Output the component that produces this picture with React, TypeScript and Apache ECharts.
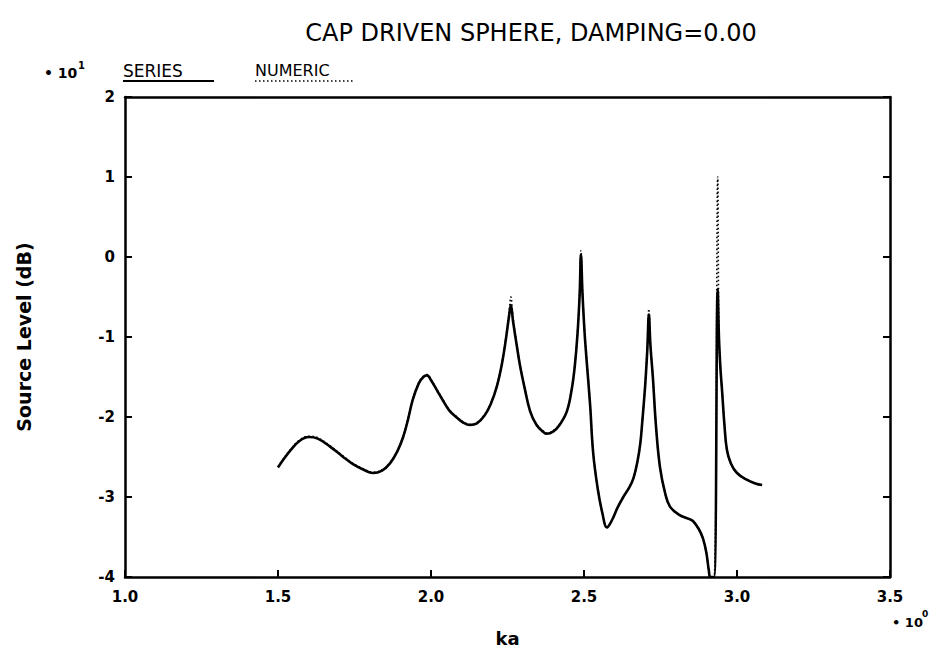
import React, { useEffect, useRef } from "react";
import * as echarts from "echarts";

// ka (dimensionless frequency) sample positions
const kaValues = [
  1.5, 1.52, 1.54, 1.57, 1.6, 1.63, 1.67, 1.71, 1.745, 1.78, 1.81, 1.84, 1.866, 1.89,
  1.909, 1.925, 1.94, 1.96, 1.975, 1.987, 2.0, 2.02, 2.04, 2.06, 2.085, 2.105, 2.127,
  2.15, 2.175, 2.195, 2.215, 2.232, 2.245, 2.255, 2.261, 2.268, 2.28, 2.291, 2.305,
  2.324, 2.345, 2.365, 2.379, 2.4, 2.42, 2.444, 2.46, 2.47, 2.479, 2.486, 2.49, 2.495,
  2.502, 2.51, 2.52, 2.53, 2.545, 2.56, 2.575, 2.59, 2.61, 2.63, 2.648, 2.662, 2.675,
  2.684, 2.69, 2.7, 2.707, 2.712, 2.717, 2.725, 2.735, 2.748, 2.765, 2.781, 2.81, 2.84,
  2.856, 2.875, 2.889, 2.9, 2.908, 2.913, 2.925, 2.937, 2.941, 2.946, 2.951, 2.959,
  2.967, 2.98, 3.0, 3.03, 3.06, 3.082,
];

// Series solution, source level in units of 10 dB
const seriesLevel = [
  -2.63, -2.52, -2.42, -2.3, -2.25, -2.27, -2.37, -2.49, -2.59, -2.66, -2.7, -2.67, -2.58,
  -2.43, -2.25, -2.03, -1.79, -1.58, -1.5, -1.48, -1.54, -1.67, -1.8, -1.92, -2.01,
  -2.07, -2.1, -2.08, -1.98, -1.84, -1.62, -1.33, -1.02, -0.74, -0.6, -0.8, -1.1, -1.36,
  -1.62, -1.93, -2.1, -2.18, -2.21, -2.18, -2.1, -1.93, -1.65, -1.36, -0.95, -0.45, 0.03,
  -0.45, -0.95, -1.36, -1.85, -2.45, -2.9, -3.2, -3.38, -3.3, -3.13, -2.99, -2.88, -2.76,
  -2.55, -2.33, -2.08, -1.6, -1.15, -0.72, -1.1, -1.5, -2.1, -2.62, -2.95, -3.12, -3.22,
  -3.27, -3.3, -3.4, -3.52, -3.7, -3.92, -4.0, -4.0, -0.4, -1.0, -1.4, -1.66, -2.1,
  -2.41, -2.58, -2.7, -2.78, -2.83, -2.85,
];

// Numerical solution, source level in units of 10 dB
const numericLevel = [
  -2.62, -2.51, -2.41, -2.29, -2.24, -2.26, -2.36, -2.48, -2.58, -2.65, -2.69, -2.66,
  -2.57, -2.42, -2.24, -2.02, -1.78, -1.57, -1.49, -1.47, -1.53, -1.66, -1.79, -1.91,
  -2.0, -2.06, -2.09, -2.07, -1.97, -1.83, -1.61, -1.32, -1.0, -0.7, -0.5, -0.76, -1.08,
  -1.35, -1.61, -1.92, -2.09, -2.17, -2.2, -2.17, -2.09, -1.92, -1.64, -1.35, -0.93,
  -0.42, 0.08, -0.42, -0.93, -1.35, -1.84, -2.44, -2.9, -3.2, -3.38, -3.3, -3.13, -2.99,
  -2.88, -2.76, -2.55, -2.33, -2.08, -1.58, -1.1, -0.65, -1.08, -1.5, -2.1, -2.62, -2.95,
  -3.12, -3.22, -3.27, -3.3, -3.4, -3.52, -3.7, -3.92, -4.0, -4.0, 1.0, -1.0, -1.4,
  -1.66, -2.1, -2.41, -2.58, -2.7, -2.78, -2.83, -2.85,
];

const kaTicks = [1.0, 1.5, 2.0, 2.5, 3.0, 3.5];
const levelTicks = [-4, -3, -2, -1, 0, 1, 2];

const FONT = "DejaVu Sans";

export default function App() {
  const ref = useRef<HTMLDivElement>(null);

  useEffect(() => {
    if (!ref.current) return;
    const chart = echarts.init(ref.current, undefined, { renderer: "svg" });

    const seriesData = kaValues.map((k, i) => [k, seriesLevel[i]]);
    const numericData = kaValues.map((k, i) => [k, numericLevel[i]]);

    const xMin = kaTicks[0];
    const xMax = kaTicks[kaTicks.length - 1];
    const yMin = levelTicks[0];
    const yMax = levelTicks[levelTicks.length - 1];

    const axisLine = { show: true, onZero: false, lineStyle: { color: "#000", width: 2.5 } };
    const innerTick = { show: true, inside: true, length: 7, lineStyle: { color: "#000", width: 2 } };

    chart.setOption({
      animation: false,
      backgroundColor: "#fff",
      title: {
        text: "CAP DRIVEN SPHERE, DAMPING=0.00",
        left: 526,
        top: 16,
        textAlign: "center",
        textStyle: { fontFamily: FONT, fontSize: 24, fontWeight: "normal", color: "#000" },
      },
      grid: { left: 125, right: 41, top: 97, bottom: 80 },
      xAxis: [
        {
          type: "value",
          min: xMin,
          max: xMax,
          interval: 0.5,
          axisLine,
          axisTick: innerTick,
          axisLabel: {
            margin: 12,
            fontFamily: FONT,
            fontSize: 15,
            fontWeight: "bold",
            color: "#000",
            formatter: (v: number) => v.toFixed(1),
          },
          splitLine: { show: false },
          name: "ka",
          nameLocation: "middle",
          nameGap: 52,
          nameTextStyle: { fontFamily: FONT, fontSize: 18, fontWeight: "bold", color: "#000" },
        },
        {
          type: "value",
          position: "top",
          min: xMin,
          max: xMax,
          interval: 0.5,
          axisLine,
          axisTick: { show: false },
          axisLabel: { show: false },
          splitLine: { show: false },
        },
      ],
      yAxis: [
        {
          type: "value",
          min: yMin,
          max: yMax,
          interval: 1,
          axisLine,
          axisTick: innerTick,
          axisLabel: {
            margin: 10,
            fontFamily: FONT,
            fontSize: 15,
            fontWeight: "bold",
            color: "#000",
          },
          splitLine: { show: false },
          name: "Source Level (dB)",
          nameLocation: "middle",
          nameGap: 92,
          nameRotate: 90,
          nameTextStyle: { fontFamily: FONT, fontSize: 19, fontWeight: "bold", color: "#000" },
        },
        {
          type: "value",
          position: "right",
          min: yMin,
          max: yMax,
          interval: 1,
          axisLine,
          axisTick: innerTick,
          axisLabel: { show: false },
          splitLine: { show: false },
        },
      ],
      graphic: [
        // axis multipliers
        {
          type: "text",
          left: 44,
          top: 66,
          style: { text: "\u2022 10", fontFamily: FONT, fontSize: 14, fontWeight: "bold", fill: "#000" },
        },
        {
          type: "text",
          left: 78,
          top: 60,
          style: { text: "1", fontFamily: FONT, fontSize: 10, fontWeight: "bold", fill: "#000" },
        },
        {
          type: "text",
          left: 892,
          top: 616,
          style: { text: "\u2022 10", fontFamily: FONT, fontSize: 13, fontWeight: "bold", fill: "#000" },
        },
        {
          type: "text",
          left: 922,
          top: 609,
          style: { text: "0", fontFamily: FONT, fontSize: 9, fontWeight: "bold", fill: "#000" },
        },
        // legend: series (solid) and numeric (dotted)
        {
          type: "text",
          left: 123,
          top: 62,
          style: { text: "SERIES", fontFamily: FONT, fontSize: 17, fill: "#000" },
        },
        {
          type: "line",
          shape: { x1: 123, y1: 81, x2: 214, y2: 81 },
          style: { stroke: "#000", lineWidth: 2 },
        },
        {
          type: "text",
          left: 255,
          top: 62,
          style: { text: "NUMERIC", fontFamily: FONT, fontSize: 16, fill: "#000" },
        },
        {
          type: "line",
          shape: { x1: 255, y1: 81, x2: 354, y2: 81 },
          style: { stroke: "#000", lineWidth: 1.5, lineDash: [1.5, 2.5] },
        },
      ],
      series: [
        {
          name: "SERIES",
          type: "line",
          data: seriesData,
          showSymbol: false,
          smooth: 0.4,
          clip: true,
          lineStyle: { color: "#000", width: 2.6 },
          z: 3,
        },
        {
          name: "NUMERIC",
          type: "line",
          data: numericData,
          showSymbol: false,
          smooth: 0.4,
          clip: true,
          lineStyle: { color: "#000", width: 1.6, type: [1.5, 2.5] },
          z: 4,
        },
      ],
    });

    return () => chart.dispose();
  }, []);

  return <div ref={ref} style={{ width: 931, height: 657, position: "absolute", left: 0, top: 0 }} />;
}
